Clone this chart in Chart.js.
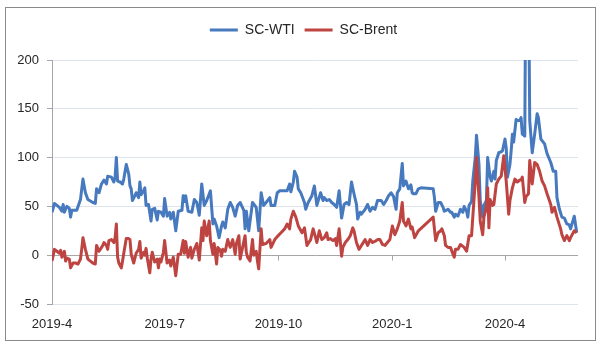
<!DOCTYPE html>
<html>
<head>
<meta charset="utf-8">
<script src="https://cdn.jsdelivr.net/npm/chart.js@4.4.1/dist/chart.umd.min.js"></script>
<style>
  html, body { margin: 0; padding: 0; background: #fff; }
  #wrap { position: relative; width: 600px; height: 347px; }
  #frame { position: absolute; left: 5px; top: 7px; width: 589px; height: 332px; border: 1px solid #8a8a8a; pointer-events: none; }
  canvas { position: absolute; left: 0; top: 0; }
</style>
</head>
<body>
<div id="wrap">
  <canvas id="chart" width="600" height="347"></canvas>
  <div id="frame"></div>
</div>
<script>
// x values are days since 2019-04-01
const tickDays = [0, 91, 183, 275, 366];
const tickLabels = ["2019-4", "2019-7", "2019-10", "2020-1", "2020-4"];

const wtiDays = [0,2,6,8,9,10,12,14,15,16,20,23,25,27,29,33,35,36,38,40,42,44,45,48,50,51,52,53,55,57,58,60,62,63,64,65,67,68,70,71,72,74,75,76,78,80,81,83,85,86,88,90,91,93,95,96,98,100,102,105,106,107,108,110,113,115,117,119,121,123,125,128,130,131,133,135,137,138,140,142,144,146,148,150,152,155,156,157,159,162,165,167,169,171,173,176,177,180,182,184,190,192,193,195,196,198,199,201,204,205,207,210,212,214,217,219,220,222,224,226,228,230,232,234,236,238,240,242,244,246,247,249,250,253,255,257,259,261,263,266,268,270,272,274,276,278,279,281,283,284,286,288,290,291,292,294,296,298,308,309,310,312,314,316,317,320,322,323,325,326,328,330,332,333,335,336,337,339,340,342,343,345,346,348,349,351,352,354,355,357,358,359,361,363,364,366,367,368,370,371,372,373,375,376,378,379,380,382,383,385,386,388,390,392,393,395,398,400,403,405,407,408,410,412,414,416,418,419,422,424];
const wtiVals = [44,53,49,45,52,44,50,48,39,46,46,57,78,64,57,54,53,68,64,73,77,73,81,80,75,80,100,76,75,73,78,93,83,71,68,56,61,64,59,75,62,66,69,51,52,35,47,48,36,45,44,40,58,40,44,37,44,25,45,46,61,55,61,45,44,57,54,41,73,51,56,66,32,37,30,18,30,34,28,47,54,49,40,51,54,46,27,45,25,54,49,25,64,51,54,59,51,51,64,66,66,73,65,75,86,80,68,64,54,47,54,61,71,51,64,56,59,56,57,54,52,49,66,38,52,54,52,75,63,52,37,44,42,47,52,45,49,47,56,56,52,56,61,64,60,47,64,68,94,71,76,68,72,64,63,63,68,69,68,59,45,54,54,49,45,47,44,44,39,42,40,47,44,50,45,39,51,55,76,100,123,93,56,39,51,56,100,80,76,86,78,97,105,106,107,119,110,80,93,107,124,116,139,138,138,141,124,122,330,290,138,105,124,145,141,119,114,104,95,86,86,59,47,39,38,32,31,27,40,23];

const brentDays = [0,2,4,6,7,8,10,11,12,14,15,17,19,21,23,24,25,27,29,31,33,35,36,38,39,41,42,44,45,46,48,50,51,52,53,54,56,57,58,60,62,63,64,66,67,68,70,71,72,74,75,76,77,79,80,81,83,85,86,87,88,90,91,93,95,96,98,100,102,104,106,107,108,110,112,113,115,117,119,121,122,123,125,127,128,130,131,133,134,136,137,138,140,142,144,146,148,149,151,152,154,156,157,158,160,162,163,165,166,167,169,170,173,176,177,180,182,185,188,190,192,193,195,197,199,202,204,206,208,209,211,213,214,216,218,220,222,223,225,227,229,230,232,234,235,237,239,241,243,244,246,248,250,253,254,255,257,259,262,263,265,267,269,271,273,275,277,279,281,283,284,286,288,290,291,293,296,308,310,312,314,315,317,318,320,322,324,325,326,328,330,332,333,335,337,339,340,342,343,345,346,348,349,351,352,353,354,356,357,359,361,363,365,367,369,370,372,374,376,378,379,380,382,383,385,386,388,390,392,394,396,398,400,403,404,406,408,411,412,414,416,418,419,422,424];
const brentVals = [-6,6,4,2,5,-2,4,-6,-3,-4,-13,-8,-8,-9,-4,6,18,6,-4,-6,-8,-9,10,4,6,10,13,10,6,15,16,13,18,32,-2,-8,-13,-6,2,17,17,16,1,-8,-3,2,6,14,-3,3,0,7,-3,-18,-4,3,-7,-4,-13,-4,-7,3,15,-8,-5,-11,-2,-21,1,1,15,2,14,-2,8,-3,6,12,-5,28,15,35,20,35,15,1,12,-9,8,5,-1,6,4,16,8,16,1,12,20,-4,8,20,3,-2,-6,16,0,4,-6,-14,27,11,12,16,8,16,19,23,27,32,27,37,45,39,30,23,28,10,14,16,27,18,13,25,16,18,23,16,17,15,17,10,27,-1,8,13,16,20,28,25,13,6,10,16,13,10,16,13,15,16,16,11,10,13,16,30,21,27,35,54,35,30,37,27,29,18,25,39,15,23,25,27,20,10,8,8,1,-2,6,6,11,9,8,4,20,20,39,76,100,59,35,21,39,49,69,28,57,51,52,73,78,81,102,76,42,56,69,78,75,77,77,80,54,60,63,97,73,95,93,86,76,71,63,52,44,49,39,27,21,15,20,15,18,25,23];

const WTI_COLOR = "#4679BD";
const BRENT_COLOR = "#BE4441";
const FONT = "'Liberation Sans', Arial, sans-serif";
const TEXT_COLOR = "#262626";
const AXIS_COLOR = "#a6a6a6";

function toPoints(days, vals) {
  return days.map((d, i) => ({ x: d, y: vals[i] }));
}

// small tick marks on the zero line, like the category axis crossing at 0
const zeroTicks = {
  id: "zeroTicks",
  beforeDatasetsDraw(chart) {
    const { ctx, scales: { x, y } } = chart;
    const y0 = Math.round(y.getPixelForValue(0)) + 0.5;
    ctx.save();
    ctx.strokeStyle = AXIS_COLOR;
    ctx.lineWidth = 1;
    tickDays.slice(1).forEach((d) => {
      const px = Math.round(x.getPixelForValue(d)) + 0.5;
      ctx.beginPath();
      ctx.moveTo(px, y0);
      ctx.lineTo(px, y0 + 5);
      ctx.stroke();
    });
    ctx.restore();
  }
};

const chart = new Chart(document.getElementById("chart"), {
  type: "line",
  data: {
    datasets: [
      {
        label: "SC-WTI",
        data: toPoints(wtiDays, wtiVals),
        borderColor: WTI_COLOR,
        backgroundColor: WTI_COLOR,
        borderWidth: 3,
        pointRadius: 0,
        tension: 0,
        borderJoinStyle: "round",
        order: 1
      },
      {
        label: "SC-Brent",
        data: toPoints(brentDays, brentVals),
        borderColor: BRENT_COLOR,
        backgroundColor: BRENT_COLOR,
        borderWidth: 3,
        pointRadius: 0,
        tension: 0,
        borderJoinStyle: "round",
        order: 0
      }
    ]
  },
  options: {
    responsive: false,
    animation: false,
    layout: { padding: { top: 13, left: 10, right: 3, bottom: 0 } },
    plugins: {
      legend: {
        position: "top",
        labels: {
          usePointStyle: true,
          pointStyle: "line",
          pointStyleWidth: 28,
          padding: 10,
          color: TEXT_COLOR,
          font: { family: FONT, size: 14 },
          sort: (a, b) => a.datasetIndex - b.datasetIndex
        }
      },
      // empty title used only as a spacer between legend and plot
      title: {
        display: true,
        text: "",
        weight: 100,
        padding: { top: 0, bottom: 12 },
        font: { size: 1, lineHeight: 1 }
      },
      tooltip: { enabled: false }
    },
    scales: {
      x: {
        type: "linear",
        min: 0,
        max: 425,
        afterBuildTicks: (s) => { s.ticks = tickDays.map((v) => ({ value: v })); },
        afterFit: (s) => { s.height = 43; },
        ticks: {
          callback: (v) => tickLabels[tickDays.indexOf(v)],
          color: TEXT_COLOR,
          font: { family: FONT, size: 13 },
          padding: 13,
          maxRotation: 0,
          autoSkip: false
        },
        grid: { display: false, drawTicks: false },
        border: { display: false }
      },
      y: {
        min: -50,
        max: 200,
        afterFit: (s) => { s.width = 42; },
        ticks: {
          stepSize: 50,
          color: TEXT_COLOR,
          font: { family: FONT, size: 13 },
          padding: 8
        },
        grid: {
          color: (c) => (c.tick && c.tick.value === 0 ? AXIS_COLOR : "#dde4ee"),
          tickColor: AXIS_COLOR,
          tickLength: 5
        },
        border: { color: AXIS_COLOR }
      },
      // empty right-hand axis: keeps the plot's right edge where the original has it
      yRight: {
        position: "right",
        display: true,
        afterFit: (s) => { s.width = 19; },
        ticks: { display: false },
        grid: { display: false, drawTicks: false },
        border: { display: false }
      }
    }
  },
  plugins: [zeroTicks]
});
</script>
</body>
</html>
